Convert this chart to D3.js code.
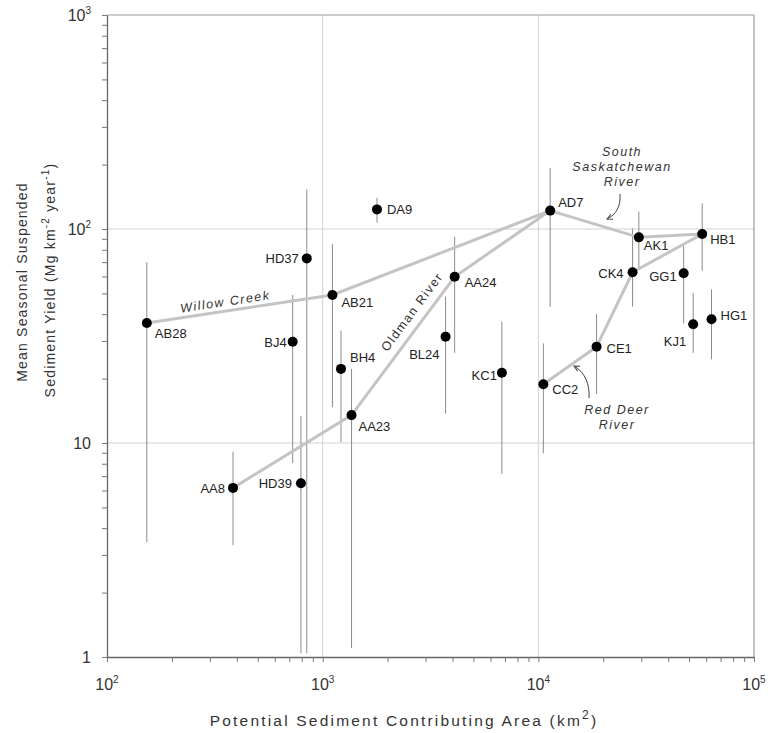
<!DOCTYPE html>
<html>
<head>
<meta charset="utf-8">
<script src="https://cdn.jsdelivr.net/npm/d3@7"></script>
<style>
  body { margin: 0; background: #fff; }
  svg { font-family: "Liberation Sans", Arial, sans-serif; }
</style>
</head>
<body>
<svg width="773" height="733"></svg>
<script>
// station data
var sites     = ["AB28","AA8","HD39","BJ4","HD37","AB21","BH4","AA23","DA9","BL24","AA24","KC1","CC2","AD7","CE1","CK4","AK1","GG1","KJ1","HB1","HG1"];
var area      = [153, 384, 793, 726, 844, 1110, 1216, 1361, 1786, 3715, 4092, 6776, 10550, 11350, 18620, 27350, 29240, 47200, 52240, 57530, 63530];
var yieldMean = [36.4, 6.17, 6.49, 29.7, 72.9, 49.2, 22.2, 13.5, 123.5, 31.4, 59.8, 21.3, 18.8, 121.9, 28.2, 62.8, 91.4, 62.1, 35.9, 94.8, 37.9];
var yieldHigh = [70, 9.1, 13.4, 49.2, 153, 85, 33.5, 22.2, 140, 48.3, 92, 36.9, 29.2, 193, 40.1, 100.7, 120.5, 83.4, 50.1, 131.8, 52.2];
var yieldLow  = [3.44, 3.33, 1.04, 8.07, 1.04, 14.7, 10.1, 1.10, 107, 13.7, 26.4, 7.16, 8.95, 43.3, 16.9, 43.4, 65.5, 36.2, 26.4, 63.8, 24.6];

// river reaches (station sequences)
var willowCreek = ["AB28","AB21","AD7"];
var oldmanRiver = ["AA8","AA23","AA24","AD7"];
var southSask   = ["AD7","AK1","HB1"];
var redDeer     = ["CC2","CE1","CK4","HB1"];

var xDecades = [1e2, 1e3, 1e4, 1e5];
var yDecades = [1, 10, 1e2, 1e3];
var xTickText = [["10","2"],["10","3"],["10","4"],["10","5"]];
var yTickText = [["1",""],["10",""],["10","2"],["10","3"]];

// label offsets [dx, dy, anchor]
var labelPos = {
  AB28: [8, 15, "start"], AA8: [-8, 5, "end"], HD39: [-9, 5, "end"], BJ4: [-6, 5, "end"],
  HD37: [-8, 5, "end"], AB21: [9, 12, "start"], BH4: [9, -7, "start"], AA23: [7, 16, "start"],
  DA9: [10, 5, "start"], BL24: [-6, 22, "end"], AA24: [10, 10, "start"], KC1: [-5, 7, "end"],
  CC2: [9, 10, "start"], AD7: [8, -4, "start"], CE1: [10, 6, "start"], CK4: [-9, 6, "end"],
  AK1: [5, 13, "start"], GG1: [-7, 8, "end"], KJ1: [-7, 22, "end"], HB1: [8, 10, "start"],
  HG1: [9, 1, "start"]
};

var svg = d3.select('svg');
var x = d3.scaleLog().domain([1e2, 1e5]).range([107, 754]);
var y = d3.scaleLog().domain([1, 1e3]).range([657, 15]);

var pts = sites.map(function (s, i) {
  return { name: s, a: area[i], m: yieldMean[i], hi: yieldHigh[i], lo: yieldLow[i] };
});
var byName = {};
pts.forEach(function (p) { byName[p.name] = p; });

// gridlines at decades
svg.append('g').selectAll('line.gx').data([1e3, 1e4]).enter().append('line')
  .attr('x1', function (d) { return x(d); }).attr('x2', function (d) { return x(d); })
  .attr('y1', y(1)).attr('y2', y(1e3))
  .attr('stroke', '#d2d2d2').attr('stroke-width', 1);
svg.append('g').selectAll('line.gy').data([10, 1e2]).enter().append('line')
  .attr('y1', function (d) { return y(d); }).attr('y2', function (d) { return y(d); })
  .attr('x1', x(1e2)).attr('x2', x(1e5))
  .attr('stroke', '#d2d2d2').attr('stroke-width', 1);

// frame top/right
svg.append('path')
  .attr('d', 'M' + x(1e2) + ',' + y(1e3) + 'H' + x(1e5) + 'V' + y(1))
  .attr('fill', 'none').attr('stroke', '#9a9a9a').attr('stroke-width', 1.2);

// axes
function logTicks(dom) {
  var t = [];
  for (var e = Math.log10(dom[0]); e <= Math.log10(dom[1]); e++) {
    for (var k = 1; k <= 9; k++) {
      var v = k * Math.pow(10, e);
      if (v <= dom[1] * 1.0001) t.push(v);
    }
  }
  return t;
}
var xAxis = d3.axisBottom(x).tickValues(logTicks([1e2, 1e5])).tickFormat('').tickSize(5).tickSizeOuter(0);
var yAxis = d3.axisLeft(y).tickValues(logTicks([1, 1e3])).tickFormat('').tickSize(5).tickSizeOuter(0);
var gx = svg.append('g').attr('transform', 'translate(0,' + y(1) + ')').call(xAxis);
var gy = svg.append('g').attr('transform', 'translate(' + x(1e2) + ',0)').call(yAxis);
[gx, gy].forEach(function (g) {
  g.select('.domain').attr('stroke', '#666').attr('stroke-width', 1.3);
  g.selectAll('.tick line').attr('stroke', '#777');
});

// decade labels
var xl = svg.append('g').selectAll('text').data(xDecades).enter().append('text')
  .attr('x', function (d) { return x(d); }).attr('y', 690)
  .attr('text-anchor', 'middle').attr('font-size', 16).attr('fill', '#333');
xl.append('tspan').text(function (d, i) { return xTickText[i][0]; });
xl.append('tspan').attr('dy', -7).attr('font-size', 10).text(function (d, i) { return xTickText[i][1]; });

var yl = svg.append('g').selectAll('text').data(yDecades).enter().append('text')
  .attr('x', 91).attr('y', function (d) { return y(d) + 6; })
  .attr('text-anchor', 'end').attr('font-size', 16).attr('fill', '#333');
yl.append('tspan').text(function (d, i) { return yTickText[i][0]; });
yl.append('tspan').attr('dy', -7).attr('font-size', 10).text(function (d, i) { return yTickText[i][1]; });

// axis titles
svg.append('text')
  .attr('x', 404).attr('y', 726).attr('text-anchor', 'middle')
  .attr('font-size', 15.5).attr('letter-spacing', 2.2).attr('fill', '#333')
  .html('Potential Sediment Contributing Area (km<tspan dy="-7" font-size="12">2</tspan><tspan dy="7">)</tspan>');
svg.append('text')
  .attr('transform', 'translate(27,282) rotate(-90)').attr('text-anchor', 'middle')
  .attr('font-size', 14).attr('letter-spacing', 1.2).attr('fill', '#333')
  .text('Mean Seasonal Suspended');
svg.append('text')
  .attr('transform', 'translate(55,280) rotate(-90)').attr('text-anchor', 'middle')
  .attr('font-size', 14).attr('letter-spacing', 1.2).attr('fill', '#333')
  .html('Sediment Yield (Mg km<tspan dy="-6" font-size="10">-2</tspan><tspan dy="6">  year</tspan><tspan dy="-6" font-size="10">-1</tspan><tspan dy="6">)</tspan>');

// error bars
svg.append('g').selectAll('line').data(pts).enter().append('line')
  .attr('x1', function (d) { return x(d.a); }).attr('x2', function (d) { return x(d.a); })
  .attr('y1', function (d) { return y(d.hi); }).attr('y2', function (d) { return y(d.lo); })
  .attr('stroke', '#8c8c8c').attr('stroke-width', 1);

// rivers
var line = d3.line()
  .x(function (n) { return x(byName[n].a); })
  .y(function (n) { return y(byName[n].m); });
svg.append('g').selectAll('path').data([willowCreek, oldmanRiver, southSask, redDeer]).enter().append('path')
  .attr('d', line).attr('fill', 'none').attr('stroke', '#c4c4c4').attr('stroke-width', 3);

// river names along segments
function alongLabel(a, b, t, off, txt, italic) {
  var p = byName[a], q = byName[b];
  var x1 = x(p.a), y1 = y(p.m), x2 = x(q.a), y2 = y(q.m);
  var ang = Math.atan2(y2 - y1, x2 - x1) * 180 / Math.PI;
  var cx = x1 + (x2 - x1) * t, cy = y1 + (y2 - y1) * t;
  svg.append('text')
    .attr('transform', 'translate(' + cx + ',' + cy + ') rotate(' + ang + ')')
    .attr('y', off).attr('text-anchor', 'middle')
    .attr('font-size', 12.5).attr('letter-spacing', 1.5).attr('fill', '#333')
    .attr('font-style', italic ? 'italic' : 'normal')
    .text(txt);
}
alongLabel('AB28', 'AB21', 0.43, -5, 'Willow Creek', true);
alongLabel('AA23', 'AA24', 0.69, -9, 'Oldman River', false);

// points
svg.append('g').selectAll('circle').data(pts).enter().append('circle')
  .attr('cx', function (d) { return x(d.a); }).attr('cy', function (d) { return y(d.m); })
  .attr('r', 5).attr('fill', '#000');

// station labels
svg.append('g').selectAll('text').data(pts).enter().append('text')
  .attr('x', function (d) { return x(d.a) + labelPos[d.name][0]; })
  .attr('y', function (d) { return y(d.m) + labelPos[d.name][1]; })
  .attr('text-anchor', function (d) { return labelPos[d.name][2]; })
  .attr('font-size', 13).attr('fill', '#222')
  .text(function (d) { return d.name; });

// callouts with arrows
svg.append('defs').append('marker')
  .attr('id', 'ah').attr('viewBox', '0 0 10 10').attr('refX', 9).attr('refY', 5)
  .attr('markerWidth', 7).attr('markerHeight', 7).attr('orient', 'auto')
  .append('path').attr('d', 'M1,1 L9,5 L1,9').attr('fill', 'none').attr('stroke', '#444').attr('stroke-width', 1.4);

var ss = svg.append('text').attr('text-anchor', 'middle').attr('font-size', 12.5)
  .attr('font-style', 'italic').attr('letter-spacing', 1.5).attr('fill', '#333');
['South', 'Saskatchewan', 'River'].forEach(function (t, i) {
  ss.append('tspan').attr('x', 622).attr('y', 156 + i * 15).text(t);
});
svg.append('path').attr('d', 'M620,194 C621,206 616,215 607,219')
  .attr('fill', 'none').attr('stroke', '#444').attr('stroke-width', 1).attr('marker-end', 'url(#ah)');

var rd = svg.append('text').attr('text-anchor', 'middle').attr('font-size', 12.5)
  .attr('font-style', 'italic').attr('letter-spacing', 1.5).attr('fill', '#333');
['Red Deer', 'River'].forEach(function (t, i) {
  rd.append('tspan').attr('x', 617).attr('y', 414 + i * 15).text(t);
});
svg.append('path').attr('d', 'M589,398 C590,385 585,372 574,366')
  .attr('fill', 'none').attr('stroke', '#444').attr('stroke-width', 1).attr('marker-end', 'url(#ah)');
</script>
</body>
</html>
